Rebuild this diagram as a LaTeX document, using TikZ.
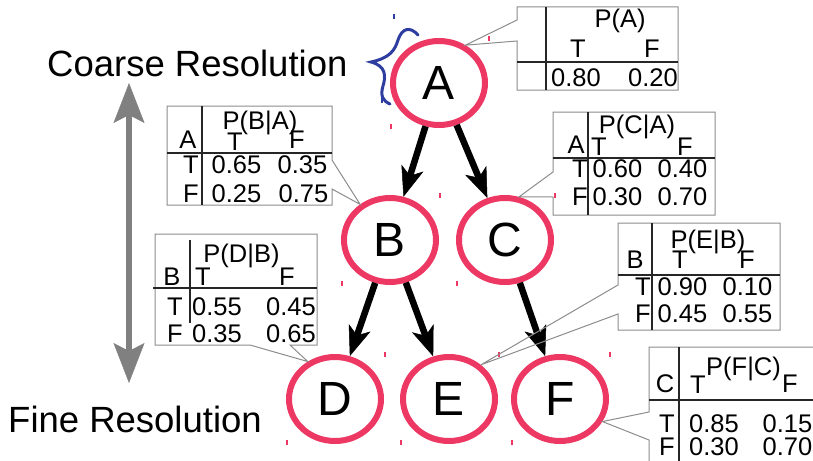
\documentclass[tikz,border=0pt]{standalone}
\usepackage{fontspec}
\setmainfont{Liberation Sans}
\usetikzlibrary{arrows.meta,calc,shapes.geometric}
\definecolor{nodepink}{RGB}{237,56,100}
\definecolor{bracenavy}{RGB}{46,62,160}
\definecolor{axisgray}{RGB}{128,128,128}
\definecolor{framegray}{RGB}{140,140,140}

\begin{document}
\begin{tikzpicture}[x=1pt,y=-1pt,
  var/.style={ellipse,draw=nodepink,line width=6pt,minimum width=92pt,minimum height=84pt,
    inner sep=0pt,font=\fontsize{48}{48}\selectfont},
  edge/.style={line width=6.5pt,-{Stealth[length=30pt,width=23pt,inset=8pt,line width=0.5pt]}},
  resaxis/.style={axisgray,line width=6pt,
    {Stealth[length=40pt,width=31pt,inset=8pt,line width=0.5pt]}-{Stealth[length=40pt,width=31pt,inset=8pt,line width=0.5pt]}},
  frame/.style={draw=framegray,line width=1pt,line join=miter},
  rule/.style={draw=black!85,line width=1.3pt},
  cell/.style={anchor=base,inner sep=0pt,font=\fontsize{25.5}{25.5}\selectfont},
  reslabel/.style={anchor=base west,inner sep=0pt,font=\fontsize{36.5}{36.5}\selectfont},
  handle/.style={line width=1.3pt}
]
\useasboundingbox (0,0) rectangle (813,460);
\clip (0,0) rectangle (813,460);

% resolution axis
\node[reslabel] (coarse) at (47,77) {Coarse Resolution};
\node[reslabel] (fine) at (8,432) {Fine Resolution};
\coordinate (axtop) at (129,83);
\coordinate (axbot) at (129,383);
\draw[resaxis] (axbot) -- (axtop);

% blue brace next to the root
\draw[bracenavy,line width=3pt,line cap=round]
  (418,35) .. controls (410,26) and (402,28) .. (398,40)
  .. controls (395,50) and (390,58) .. (371,62)
  .. controls (386,66) and (386,76) .. (383,86)
  .. controls (380,96) and (383,101) .. (390,104);
\draw[bracenavy,handle] (394,14) -- (394,19);
\draw[bracenavy,handle] (382,98) -- (382,103);

% variables
\node[var] (A) at (439,83) {A};
\node[var] (B) at (390,240) {B};
\node[var] (C) at (505,240) {C};
\node[var] (D) at (335,399) {D};
\node[var] (E) at (449,399) {E};
\node[var] (F) at (560,399) {F};

\foreach \n in {A,B,C,D,E,F}{
  \draw[nodepink,handle] ($(\n.east |- \n.north)+(1,-2)$) -- +(0,5);
  \draw[nodepink,handle] ($(\n.west |- \n.south)+(1,-4)$) -- +(0,5);
}

% dependencies
\draw[edge] (A) -- (B);
\draw[edge] (A) -- (C);
\draw[edge] (B) -- (D);
\draw[edge] (B) -- (E);
\draw[edge] (C) -- (F);

% P(A)
\draw[frame] (517,7) -- (678,7) -- (678,90) -- (517,90) -- (517,41) -- (A.55) -- (517,20) -- cycle;
\draw[rule] (546,7) -- (546,90);
\draw[rule] (517,62) -- (678,62);
\node[cell] (pa) at (620,28) {P(A)};
\node[cell] (paT) at (578,57) {T};
\node[cell] (paF) at (652,57) {F};
\node[cell] (pa1) at (576,86) {0.80};
\node[cell] (pa2) at (653,86) {0.20};

% P(B|A)
\draw[frame] (167,106) -- (332,106) -- (332,160) -- (B.130) -- (332,189) -- (332,205) -- (167,205) -- cycle;
\draw[rule] (202,106) -- (202,205);
\draw[rule] (167,153) -- (332,153);
\node[cell] (pbpar) at (188,148) {A};
\node[cell] (pb) at (260,129) {P(B|A)};
\node[cell] (pbT) at (235,150) {T};
\node[cell] (pbF) at (297,148) {F};
\node[cell] (pbr1) at (191,173) {T};
\node[cell] (pb11) at (236.5,173) {0.65};
\node[cell] (pb12) at (302.5,173) {0.35};
\node[cell] (pbr2) at (191,202) {F};
\node[cell] (pb21) at (236.5,202) {0.25};
\node[cell] (pb22) at (303.5,202) {0.75};

% P(C|A)
\draw[frame] (553,112) -- (715,112) -- (715,215) -- (553,215) -- (553,197) -- (C.72) -- (553,172) -- cycle;
\draw[rule] (588,112) -- (588,215);
\draw[rule] (553,158) -- (715,158);
\node[cell] (pcpar) at (576,153) {A};
\node[cell] (pc) at (637,133) {P(C|A)};
\node[cell] (pcT) at (599,155) {T};
\node[cell] (pcF) at (685,155) {F};
\node[cell] (pcr1) at (580,177) {T};
\node[cell] (pc11) at (617.5,177) {0.60};
\node[cell] (pc12) at (682.5,177) {0.40};
\node[cell] (pcr2) at (580,205) {F};
\node[cell] (pc21) at (617.5,205) {0.30};
\node[cell] (pc22) at (682.5,205) {0.70};

% P(D|B)
\draw[frame] (155,234) -- (317,234) -- (317,345) -- (290,345) -- (D.126) -- (250,345) -- (155,345) -- cycle;
\draw[rule] (190,240) -- (190,323);
\draw[rule] (153,288) -- (317,288);
\node[cell] (pdpar) at (172,285) {B};
\node[cell] (pd) at (241.5,262) {P(D|B)};
\node[cell] (pdT) at (203,285) {T};
\node[cell] (pdF) at (287,285) {F};
\node[cell] (pdr1) at (175,315) {T};
\node[cell] (pd11) at (217,315) {0.55};
\node[cell] (pd12) at (291,315) {0.45};
\node[cell] (pdr2) at (175,342) {F};
\node[cell] (pd21) at (217,342) {0.35};
\node[cell] (pd22) at (291,342) {0.65};

% P(E|B)
\draw[frame] (618,223) -- (780,223) -- (780,330) -- (618,330) -- (618,314) -- (E.47) -- (618,285) -- cycle;
\draw[rule] (652,223) -- (652,330);
\draw[rule] (618,275) -- (780,275);
\node[cell] (pepar) at (635,268) {B};
\node[cell] (pe) at (708,248) {P(E|B)};
\node[cell] (peT) at (680,268) {T};
\node[cell] (peF) at (747,268) {F};
\node[cell] (per1) at (643,295) {T};
\node[cell] (pe11) at (682.5,295) {0.90};
\node[cell] (pe12) at (747.5,295) {0.10};
\node[cell] (per2) at (643,322) {F};
\node[cell] (pe21) at (682.5,322) {0.45};
\node[cell] (pe22) at (747.5,322) {0.55};

% P(F|C)
\draw[frame] (649,347) -- (830,347) -- (830,480) -- (649,480) -- (649,440) -- (F.332) -- (649,412) -- cycle;
\draw[rule] (679,347) -- (679,480);
\draw[rule] (649,400) -- (830,400);
\node[cell] (pfpar) at (665,392) {C};
\node[cell] (pf) at (743.5,375) {P(F|C)};
\node[cell] (pfT) at (698,393) {T};
\node[cell] (pfF) at (790,392) {F};
\node[cell] (pfr1) at (667,432) {T};
\node[cell] (pf11) at (714,432) {0.85};
\node[cell] (pf12) at (787.5,432) {0.15};
\node[cell] (pfr2) at (667,455) {F};
\node[cell] (pf21) at (714,455) {0.30};
\node[cell] (pf22) at (787.5,455) {0.70};
\end{tikzpicture}
\end{document}
